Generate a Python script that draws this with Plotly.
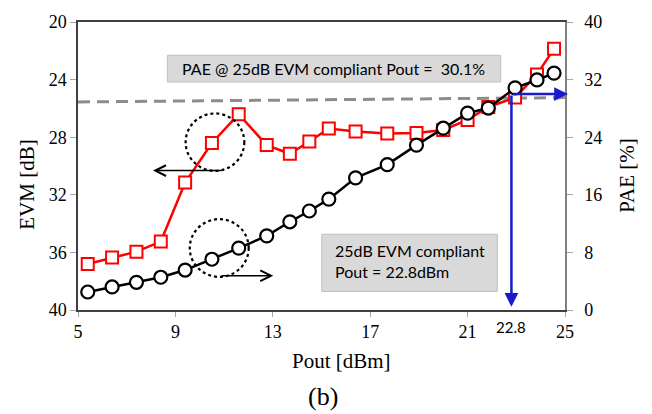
import plotly.graph_objects as go

# ---- data ----
pout = [5.4, 6.4, 7.4, 8.4, 9.4, 10.5, 11.6, 12.75, 13.7, 14.5, 15.3, 16.4,
        17.7, 18.9, 20.0, 21.0, 21.85, 22.95, 23.85, 24.55]
evm = [36.8, 36.35, 35.95, 35.25, 31.15, 28.4, 26.4, 28.55, 29.15, 28.3, 27.4,
       27.6, 27.75, 27.7, 27.5, 26.8, 25.9, 25.25, 23.65, 21.85]
pae = [2.5, 3.2, 3.85, 4.55, 5.55, 7.05, 8.6, 10.3, 12.25, 13.75, 15.4, 18.35,
       20.2, 22.9, 25.25, 27.35, 28.05, 30.85, 31.95, 32.9]

x_ticks = [5, 9, 13, 17, 21, 25]
evm_ticks = [20, 24, 28, 32, 36, 40]
pae_ticks = [0, 8, 16, 24, 32, 40]

ref_x = [5, 25]
ref_evm = [25.55, 25.25]
compliant_pout = 22.8
compliant_evm = 25.0

box1_text = "PAE @ 25dB EVM compliant Pout =\u00a0 30.1%"
box2_text = "25dB EVM compliant<br>Pout = 22.8dBm"

serif = "Liberation Serif"
sans = "Lato"

fig = go.Figure()

fig.add_trace(go.Scatter(x=ref_x, y=ref_evm, mode="lines",
                         line=dict(color="#8c8c8c", width=3, dash="12px,7px"),
                         yaxis="y", hoverinfo="skip"))
fig.add_trace(go.Scatter(x=pout, y=evm, mode="lines+markers",
                         line=dict(color="#ff0000", width=2.5),
                         marker=dict(symbol="square", size=12, color="white",
                                     line=dict(color="#ff0000", width=2)),
                         yaxis="y"))
fig.add_trace(go.Scatter(x=pout, y=pae, mode="lines+markers",
                         line=dict(color="black", width=2.5),
                         marker=dict(symbol="circle", size=13, color="white",
                                     line=dict(color="black", width=2.2)),
                         yaxis="y2"))

axis_font = dict(family=serif, size=18, color="black")

fig.update_layout(
    width=652, height=414,
    margin=dict(l=78, r=87, t=16, b=104, pad=0),
    plot_bgcolor="white", paper_bgcolor="white",
    showlegend=False,
    xaxis=dict(range=[5, 25], tickvals=x_ticks, ticks="outside", ticklen=5,
               tickcolor="#a6a6a6", showline=True, linecolor="#404040",
               linewidth=1.5, mirror=True, showgrid=False, zeroline=False,
               tickfont=axis_font),
    yaxis=dict(range=[40, 20], tickvals=evm_ticks, ticks="outside", ticklen=6,
               tickcolor="#a6a6a6", showline=True, linecolor="#404040",
               linewidth=1.5, mirror=True, showgrid=False, zeroline=False,
               tickfont=axis_font),
    yaxis2=dict(range=[0, 40], tickvals=pae_ticks, overlaying="y", side="right",
                ticks="outside", ticklen=6, tickcolor="#a6a6a6", showline=True,
                linecolor="#808080", linewidth=1.5, showgrid=False,
                zeroline=False, tickfont=axis_font, ticklabelstandoff=8),
)

# text boxes
fig.add_shape(type="rect", xref="x", yref="y", x0=8.67, x1=22.36, y0=22.31, y1=24.17,
              fillcolor="#d9d9d9", line=dict(color="#bfbfbf", width=1))
fig.add_shape(type="rect", xref="x", yref="y", x0=15.01, x1=22.22, y0=34.74, y1=38.71,
              fillcolor="#d9d9d9", line=dict(color="#bfbfbf", width=1))
# dotted circles
fig.add_shape(type="circle", xref="x", yref="y", x0=9.42, x1=11.83, y0=26.35, y1=30.34,
              line=dict(color="black", width=2.2, dash="dot"))
fig.add_shape(type="circle", xref="x", yref="y", x0=9.59, x1=12.01, y0=33.69, y1=37.7,
              line=dict(color="black", width=2.2, dash="dot"))

anns = []
anns.append(dict(x=9.19, y=23.24, xref="x", yref="y", text=box1_text, showarrow=False,
                 xanchor="left", yanchor="middle", font=dict(family=sans, size=16, color="black")))
anns.append(dict(x=15.47, y=36.63, xref="x", yref="y", text=box2_text, showarrow=False,
                 xanchor="left", yanchor="middle", align="left",
                 font=dict(family=sans, size=16, color="black")))
# blue arrows
anns.append(dict(x=compliant_pout, y=39.78, ax=compliant_pout, ay=compliant_evm,
                 xref="x", yref="y", axref="x", ayref="y", text="", showarrow=True,
                 arrowhead=2, arrowsize=1.1, arrowwidth=2.5, arrowcolor="#1a1acc", standoff=0))
anns.append(dict(x=25.12, y=compliant_evm, ax=compliant_pout, ay=compliant_evm,
                 xref="x", yref="y", axref="x", ayref="y", text="", showarrow=True,
                 arrowhead=2, arrowsize=1.1, arrowwidth=2.5, arrowcolor="#1a1acc", standoff=0))
# black arrows
anns.append(dict(x=8.08, y=30.32, ax=10.95, ay=30.32,
                 xref="x", yref="y", axref="x", ayref="y", text="", showarrow=True,
                 arrowhead=5, arrowsize=1.4, arrowwidth=1.5, arrowcolor="black", standoff=0))
anns.append(dict(x=13.02, y=37.62, ax=10.83, ay=37.62,
                 xref="x", yref="y", axref="x", ayref="y", text="", showarrow=True,
                 arrowhead=5, arrowsize=1.4, arrowwidth=1.5, arrowcolor="black", standoff=0))
# labels
anns.append(dict(x=compliant_pout, y=-0.058, xref="x", yref="paper", text="22.8",
                 showarrow=False, xanchor="center", yanchor="middle",
                 font=dict(family=sans, size=15, color="black")))
anns.append(dict(x=0.542, y=-0.177, xref="paper", yref="paper", text="Pout [dBm]",
                 showarrow=False, xanchor="center", yanchor="middle",
                 font=dict(family=serif, size=21, color="black")))
anns.append(dict(x=0.503, y=-0.299, xref="paper", yref="paper", text="(b)",
                 showarrow=False, xanchor="center", yanchor="middle",
                 font=dict(family=serif, size=26, color="black")))
anns.append(dict(x=-0.1047, y=0.435, xref="paper", yref="paper", text="EVM [dB]",
                 showarrow=False, xanchor="center", yanchor="middle", textangle=-90,
                 font=dict(family=serif, size=21, color="black")))
anns.append(dict(x=1.127, y=0.466, xref="paper", yref="paper", text="PAE [%]",
                 showarrow=False, xanchor="center", yanchor="middle", textangle=-90,
                 font=dict(family=serif, size=21, color="black")))
fig.update_layout(annotations=anns)

fig.write_html("out.html")
